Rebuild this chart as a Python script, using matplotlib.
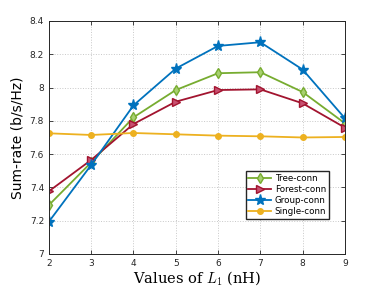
import matplotlib

matplotlib.use("Agg")
import matplotlib.pyplot as plt  # noqa: E402

# values
L1 = [2, 3, 4, 5, 6, 7, 8, 9]
tree_conn = [7.294, 7.55, 7.821, 7.985, 8.086, 8.092, 7.973, 7.785]
forest_conn = [7.377, 7.565, 7.781, 7.915, 7.985, 7.989, 7.905, 7.759]
group_conn = [7.194, 7.535, 7.893, 8.114, 8.25, 8.272, 8.108, 7.815]
single_conn = [7.725, 7.715, 7.727, 7.719, 7.711, 7.707, 7.700, 7.703]

plt.rcParams["mathtext.fontset"] = "cm"

fig = plt.figure(figsize=(3.82, 2.87), dpi=100)
ax = fig.add_axes([0.128, 0.115, 0.775, 0.812])

ax.plot(L1, tree_conn, color="#77AC30", marker="d", markersize=5, lw=1.3,
        markerfacecolor="#A8D070", label="Tree-conn")
ax.plot(L1, forest_conn, color="#A2142F", marker=">", markersize=6, lw=1.3,
        markerfacecolor="#C85070", label="Forest-conn")
ax.plot(L1, group_conn, color="#0072BD", marker="*", markersize=8, lw=1.3,
        label="Group-conn")
ax.plot(L1, single_conn, color="#EDB120", marker="o", markersize=4, lw=1.3,
        label="Single-conn")

ax.set_xlim(2, 9)
ax.set_ylim(7, 8.4)
ax.set_xticks(L1)
ax.set_yticks([7, 7.2, 7.4, 7.6, 7.8, 8, 8.2, 8.4])
ax.set_yticklabels(["7", "7.2", "7.4", "7.6", "7.8", "8", "8.2", "8.4"])
ax.tick_params(direction="in", labelsize=6.5, length=3, top=True, right=True,
               colors="#262626", width=0.6)
for s in ax.spines.values():
    s.set_linewidth(0.7)
    s.set_color("#262626")
ax.grid(True, linestyle=":", color="#c8c8c8", linewidth=0.7)

ax.set_xlabel("Values of $L_1$ (nH)", family="DejaVu Serif", fontsize=10.5, labelpad=1)
ax.set_ylabel("Sum-rate (b/s/Hz)", fontsize=10, labelpad=4)

ax.legend(loc="lower left", bbox_to_anchor=(0.665, 0.15), fontsize=6.3,
          frameon=True, fancybox=False, edgecolor="#262626", framealpha=1,
          handlelength=2.6, borderpad=0.3, labelspacing=0.25, handletextpad=0.4,
          borderaxespad=0)

fig.savefig("out.png", dpi=100)
